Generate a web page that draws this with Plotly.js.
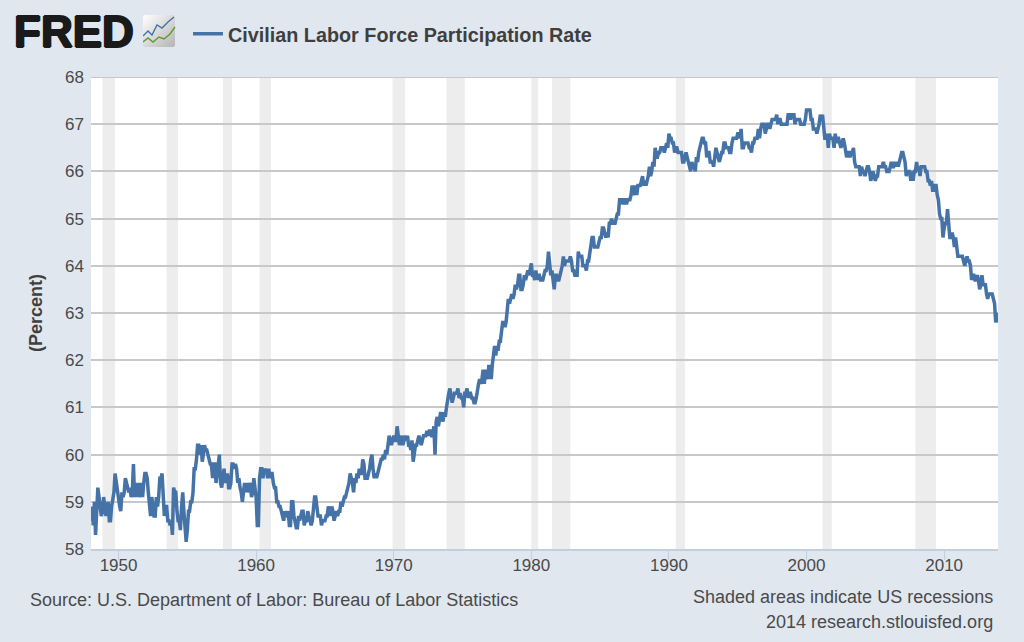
<!DOCTYPE html>
<html><head><meta charset="utf-8">
<script src="https://cdn.plot.ly/plotly-3.0.1.min.js"></script>
<style>html,body{margin:0;padding:0;background:#E0E7EF}#c{width:1024px;height:642px}</style>
</head><body><div id="c"></div>
<script>
var startYear = 1948;
var values1940s = [
58.6,58.9,58.5,59.0,58.3,59.1,59.3,59.1,58.9,58.7,58.8,59.1,
58.9,58.7,58.8,59.0,58.6,58.6,58.9,59.1,59.2,59.6,59.4,59.2];
var values1950s = [
59.0,58.9,58.8,59.2,59.1,59.2,59.5,59.4,59.3,59.2,59.3,59.1,
59.2,59.8,59.1,59.4,59.1,59.4,59.1,59.2,59.4,59.1,59.4,59.6,
59.6,59.5,59.2,58.8,58.7,59.1,58.9,58.7,58.7,59.1,58.9,59.1,
59.5,59.5,59.6,59.1,58.7,58.9,58.9,58.6,58.6,58.5,58.6,58.3,
59.3,59.2,59.2,58.8,58.6,58.6,58.4,58.9,59.2,58.8,58.5,58.15,
58.4,58.8,58.8,59.0,59.0,59.2,59.7,59.7,59.9,60.2,60.2,60.0,
60.2,59.85,60.0,60.2,60.1,60.1,60.0,59.9,59.8,59.8,59.5,59.8,
59.8,59.4,59.6,59.7,60.0,59.4,59.3,59.5,59.7,59.4,59.5,59.6,
59.3,59.3,59.4,59.8,59.8,59.7,59.8,59.7,59.4,59.5,59.3,59.2,
59.0,59.3,59.4,59.2,59.4,59.2,59.3,59.4,59.1,59.2,59.5,59.3];
var values1960s = [
59.1,58.5,58.5,59.5,59.7,59.7,59.5,59.7,59.6,59.7,59.5,59.7,
59.5,59.6,59.6,59.4,59.3,59.3,59.0,59.0,58.9,58.9,58.8,58.7,
58.6,58.8,58.7,58.7,58.8,58.5,58.5,59.0,59.0,58.7,58.6,58.45,
58.45,58.7,58.6,58.7,58.8,58.8,58.5,58.6,58.6,58.8,58.7,58.6,
58.5,58.6,58.8,59.1,59.1,58.8,58.7,58.7,58.7,58.5,58.6,58.6,
58.6,58.7,58.7,58.9,58.8,58.7,58.9,58.8,58.6,58.7,58.8,58.7,
58.8,58.8,59.0,58.9,59.0,59.1,59.1,59.2,59.3,59.4,59.6,59.5,
59.4,59.2,59.5,59.4,59.6,59.5,59.7,59.6,59.6,59.9,59.8,59.5,
59.5,59.5,59.6,59.7,59.9,60.0,59.7,59.5,59.6,59.5,59.6,59.7,
59.8,59.9,59.9,60.0,59.9,60.1,60.0,60.2,60.4,60.3,60.2,60.3];
var values1970s = [
60.4,60.3,60.3,60.6,60.3,60.2,60.3,60.4,60.2,60.3,60.4,60.3,
60.4,60.2,60.2,60.1,60.3,59.85,60.1,60.2,60.2,60.3,60.4,60.3,
60.2,60.3,60.4,60.4,60.4,60.5,60.4,60.5,60.5,60.4,60.4,60.6,
60.0,60.7,60.8,60.6,60.8,60.9,60.8,60.7,60.9,60.8,61.0,61.2,
61.3,61.4,61.2,61.1,61.2,61.3,61.3,61.3,61.4,61.2,61.3,61.2,
61.2,61.0,61.3,61.3,61.4,61.2,61.3,61.3,61.2,61.2,61.1,61.1,
61.2,61.4,61.5,61.6,61.5,61.6,61.8,61.5,61.8,61.7,61.6,61.9,
61.7,61.6,61.9,62.2,62.3,62.1,62.3,62.2,62.4,62.4,62.6,62.8,
62.8,62.7,62.8,63.0,63.3,63.2,63.3,63.4,63.3,63.4,63.6,63.5,
63.6,63.8,63.8,63.5,63.5,63.6,63.8,63.7,63.8,63.9,63.8,64.0];
var values1980s = [
64.05,63.8,63.8,63.7,63.9,63.7,63.8,63.8,63.7,63.7,63.7,63.8,
63.9,63.9,64.0,64.3,64.1,63.8,63.9,63.7,63.5,63.8,63.8,63.7,
63.7,63.8,63.9,64.0,64.2,64.0,64.1,64.1,64.1,64.1,64.2,64.1,
63.9,63.9,63.8,63.8,63.8,64.3,64.2,64.2,64.2,64.0,64.0,64.0,
63.9,64.1,64.1,64.3,64.5,64.6,64.6,64.4,64.4,64.4,64.4,64.5,
64.6,64.6,64.8,64.8,64.7,64.6,64.7,64.6,64.9,64.9,65.0,64.9,
64.9,64.9,65.0,65.1,65.1,65.4,65.4,65.4,65.3,65.4,65.4,65.3,
65.4,65.4,65.4,65.5,65.7,65.5,65.6,65.7,65.5,65.7,65.7,65.7,
65.8,65.9,65.7,65.8,65.7,65.8,65.9,66.1,65.9,66.0,66.2,66.1,
66.5,66.3,66.3,66.4,66.4,66.5,66.5,66.5,66.4,66.5,66.6,66.5];
var values1990s = [
66.8,66.7,66.7,66.6,66.6,66.4,66.5,66.5,66.4,66.4,66.4,66.4,
66.2,66.2,66.3,66.4,66.3,66.2,66.1,66.0,66.2,66.1,66.1,66.0,
66.3,66.2,66.4,66.5,66.6,66.7,66.7,66.6,66.6,66.3,66.4,66.4,
66.2,66.2,66.2,66.1,66.3,66.5,66.4,66.3,66.2,66.3,66.4,66.4,
66.6,66.6,66.5,66.5,66.5,66.4,66.4,66.6,66.7,66.7,66.7,66.7,
66.8,66.8,66.7,66.9,66.5,66.5,66.6,66.6,66.6,66.6,66.5,66.5,
66.4,66.6,66.6,66.7,66.7,66.7,66.9,66.7,66.9,67.0,67.0,67.0,
66.8,66.9,67.0,67.0,66.9,67.0,67.1,67.1,67.1,67.1,67.2,67.0,
67.1,67.1,67.0,67.0,67.0,67.0,67.0,67.0,67.2,67.2,67.1,67.2,
67.2,67.2,67.0,67.1,67.1,67.1,67.1,67.0,67.0,67.0,67.0,67.1];
var values2000s = [
67.3,67.3,67.3,67.3,67.1,67.1,66.9,66.9,66.9,66.8,66.9,67.0,
67.2,67.1,67.2,66.9,66.7,66.7,66.8,66.5,66.8,66.7,66.7,66.7,
66.5,66.8,66.6,66.7,66.7,66.6,66.5,66.6,66.7,66.6,66.4,66.3,
66.4,66.4,66.3,66.4,66.4,66.5,66.2,66.1,66.1,66.1,66.1,65.9,
66.1,66.0,66.0,65.9,66.0,66.1,66.1,66.0,65.8,65.9,66.0,65.9,
65.8,65.9,65.9,66.1,66.1,66.1,66.1,66.2,66.1,66.1,66.0,66.0,
66.0,66.1,66.2,66.1,66.1,66.2,66.1,66.2,66.1,66.2,66.3,66.4,
66.4,66.3,66.2,65.9,66.0,66.0,66.0,65.8,66.0,65.8,66.0,66.0,
66.2,66.0,66.1,65.9,66.1,66.1,66.1,66.1,66.0,66.0,65.8,65.8,
65.7,65.8,65.6,65.6,65.7,65.7,65.5,65.4,65.1,65.0,65.0,64.6];
var values2010s = [
64.8,64.9,64.9,65.2,64.9,64.6,64.6,64.7,64.6,64.4,64.6,64.3,
64.2,64.2,64.2,64.2,64.2,64.1,64.0,64.1,64.2,64.1,64.1,64.0,
63.7,63.8,63.8,63.7,63.7,63.8,63.7,63.5,63.6,63.8,63.6,63.6,
63.6,63.4,63.3,63.4,63.4,63.4,63.4,63.3,63.2,62.8,63.0,62.8];
var recessionStarts = ['1948-11-01','1953-07-01','1957-08-01','1960-04-01','1969-12-01','1973-11-01','1980-01-01','1981-07-01','1990-07-01','2001-03-01','2007-12-01'];
var recessionEnds   = ['1949-10-01','1954-05-01','1958-04-01','1961-02-01','1970-11-01','1975-03-01','1980-07-01','1982-11-01','1991-03-01','2001-11-01','2009-06-01'];
var yTicks = [58,59,60,61,62,63,64,65,66,67,68];
var seriesName = 'Civilian Labor Force Participation Rate';
var yTitle = '(Percent)';
var sourceText = 'Source: U.S. Department of Labor: Bureau of Labor Statistics';
var noteLine1 = 'Shaded areas indicate US recessions';
var noteLine2 = '2014 research.stlouisfed.org';

var values = [].concat(values1940s, values1950s, values1960s, values1970s, values1980s, values1990s, values2000s, values2010s);
var dates = values.map(function(v, i){
  var y = startYear + Math.floor(i/12), m = i%12 + 1;
  return y + '-' + (m<10?'0':'') + m + '-01';
});

var W=1024,H=642,L=91,R=998,T=77,B=549;
function px(x){return (x-L)/(R-L);}
function py(y){return (B-y)/(B-T);}
var FONT='"Liberation Sans", Arial, sans-serif';
var TXT='#4a4a4a';

var shapes = recessionStarts.map(function(s,i){
  return {type:'rect',xref:'x',yref:'paper',x0:s,x1:recessionEnds[i],y0:0,y1:1,
    fillcolor:'#EDEDED',line:{width:0},layer:'below'};
});
// top gridline sits on the plot edge
shapes.push({type:'line',xref:'paper',yref:'y',x0:0,x1:1,y0:yTicks[yTicks.length-1],y1:yTicks[yTicks.length-1],
  line:{color:'#C8C8C8',width:2},layer:'above'});

var icon = "<svg xmlns='http://www.w3.org/2000/svg' width='34' height='34' viewBox='0 0 34 34'>"+
 "<defs><linearGradient id='g' x1='0' y1='0' x2='1' y2='1'><stop offset='0' stop-color='#ffffff'/><stop offset='1' stop-color='#b4b4b4'/></linearGradient></defs>"+
 "<rect x='0' y='0' width='32' height='32' rx='2' fill='url(#g)'/>"+
 "<polyline points='0,21 5,16 9,20 14,10 19,13 25,7 31,2' fill='none' stroke='#4572A7' stroke-width='1.4'/>"+
 "<polyline points='0,27 5,23 10,27 16,22 21,24 27,19 32,12' fill='none' stroke='#5C9A34' stroke-width='1.4'/>"+
 "</svg>";

var layout = {
  width:W,height:H,autosize:false,
  paper_bgcolor:'#E0E7EF',plot_bgcolor:'#FFFFFF',
  margin:{l:L,r:W-R,t:T,b:H-B,pad:0},
  font:{family:FONT,size:17,color:TXT},
  showlegend:true,
  legend:{x:px(188),xanchor:'left',y:py(34),yanchor:'middle',orientation:'h',
    bgcolor:'rgba(0,0,0,0)',borderwidth:0,itemwidth:30,
    font:{family:FONT,size:19.8,color:'#3f3f3f',weight:'bold'}},
  xaxis:{type:'date',range:['1948-01-01','2013-12-01'],tickmode:'linear',tick0:'1950-01-01',dtick:'M120',
    tickformat:'%Y',showgrid:false,zeroline:false,showline:true,linecolor:'#C0D0E0',linewidth:2,
    ticks:'outside',ticklen:9,tickwidth:1,tickcolor:'#C0D0E0',ticklabelstandoff:-9,
    tickfont:{family:FONT,size:17,color:TXT},automargin:false},
  yaxis:{range:[58,68],tickmode:'array',tickvals:yTicks,ticktext:yTicks.map(String),
    showgrid:true,gridcolor:'#C8C8C8',gridwidth:2,zeroline:false,showline:false,ticks:'',ticklabelstandoff:6,
    tickfont:{family:FONT,size:17,color:TXT},automargin:false,
    title:{text:yTitle,font:{family:FONT,size:18,color:'#3f3f3f',weight:'bold'},standoff:17}},
  shapes:shapes,
  images:[{source:'data:image/svg+xml;utf8,'+encodeURIComponent(icon),xref:'paper',yref:'paper',
    x:px(143),y:py(15),sizex:34/(R-L),sizey:34/(B-T),xanchor:'left',yanchor:'top',layer:'above'}],
  annotations:[
    {text:'FRED',xref:'paper',yref:'paper',x:px(12),y:py(31),xanchor:'left',yanchor:'middle',showarrow:false,
      font:{family:FONT,size:44,color:'#1a1a1a',weight:'bold',shadow:'1px 0 0 #1a1a1a, -1px 0 0 #1a1a1a, 0 1px 0 #1a1a1a, 0 -1px 0 #1a1a1a'}},
    {text:sourceText,xref:'paper',yref:'paper',x:px(28),y:py(600),xanchor:'left',yanchor:'middle',showarrow:false,
      font:{family:FONT,size:18,color:TXT}},
    {text:noteLine1,xref:'paper',yref:'paper',x:px(995),y:py(597),xanchor:'right',yanchor:'middle',showarrow:false,
      font:{family:FONT,size:18,color:TXT}},
    {text:noteLine2,xref:'paper',yref:'paper',x:px(995),y:py(622),xanchor:'right',yanchor:'middle',showarrow:false,
      font:{family:FONT,size:18,color:TXT}}
  ]
};
Plotly.newPlot('c',[{x:dates,y:values,type:'scatter',mode:'lines',name:seriesName,
  line:{color:'#4572A7',width:3.5,shape:'linear'},cliponaxis:true}],layout,{displayModeBar:false,staticPlot:true});
</script></body></html>
